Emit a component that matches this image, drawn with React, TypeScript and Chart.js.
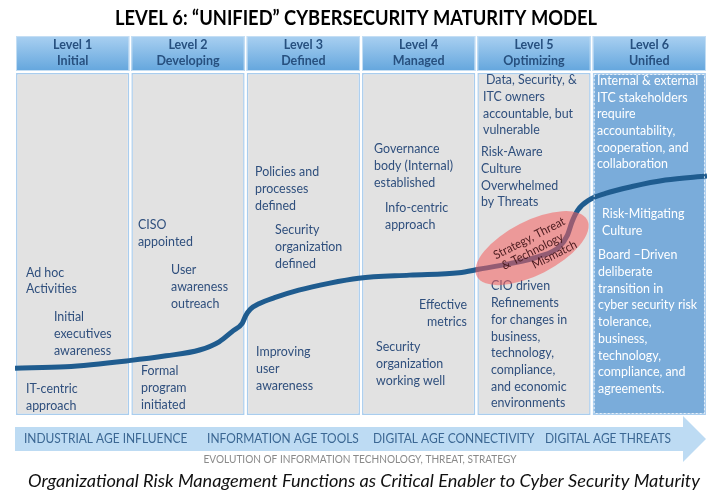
import React, { useEffect, useRef } from 'react';
import { Chart, registerables } from 'chart.js';

Chart.register(...registerables);

// ---------- data ----------
const TITLE = 'LEVEL 6: \u201CUNIFIED\u201D CYBERSECURITY MATURITY MODEL';
const LEVELS: string[][] = [
  ['Level 1', 'Initial'],
  ['Level 2', 'Developing'],
  ['Level 3', 'Defined'],
  ['Level 4', 'Managed'],
  ['Level 5', 'Optimizing'],
  ['Level 6', 'Unified'],
];
const COLUMN_BOTTOM = [0, 0, 0, 0, 0, 0];
const COLUMN_TOP = [100, 100, 100, 100, 100, 100];

// maturity S-curve (x in level units 0..6, y in 0..100)
const CURVE_X = [0, 0.44, 0.99, 1.31, 1.6, 1.77, 1.89, 1.97, 2.0, 2.04, 2.12, 2.25, 2.46, 2.72, 2.98, 3.42, 3.85, 4.02, 4.28, 4.54, 4.72, 4.79, 4.83, 4.88, 4.98, 5.12, 5.35, 5.64, 6.0];
const CURVE_Y = [13.7, 14.1, 15.9, 17.3, 19.0, 21.4, 24.6, 26.8, 29.0, 30.9, 32.6, 34.3, 36.5, 38.5, 40.0, 40.9, 41.6, 42.6, 44.2, 46.3, 49.2, 52.6, 56.5, 59.9, 62.9, 64.8, 66.8, 68.7, 69.9];

// text notes: x (level units, left edge unless right-aligned), y (first line), lines
const NOTE_X = [0.095, 0.338, 0.095, 1.066, 1.353, 1.093, 2.081, 2.254, 2.09, 3.113, 3.208, 3.919, 3.13, 4.084, 4.058, 4.041, 4.127, 5.046, 5.09, 5.055];
const NOTE_Y = [41.7, 28.7, 7.7, 55.6, 42.4, 12.9, 71.1, 54.1, 18.4, 77.8, 60.5, 32.2, 19.9, 98.0, 93.1, 76.9, 37.7, 97.8, 58.8, 46.8];
const NOTE_RIGHT = [false, false, false, false, false, false, false, false, false, false, false, true, false, false, false, false, false, false, false, false];
const NOTE_TEXT: string[][] = [
  ['Ad hoc', 'Activities'],
  ['Initial', 'executives', 'awareness'],
  ['IT-centric', 'approach'],
  ['CISO', 'appointed'],
  ['User', 'awareness', 'outreach'],
  ['Formal', 'program', 'initiated'],
  ['Policies and', 'processes', 'defined'],
  ['Security', 'organization', 'defined'],
  ['Improving', 'user', 'awareness'],
  ['Governance', 'body (Internal)', 'established'],
  ['Info-centric', 'approach'],
  ['Effective', 'metrics'],
  ['Security', 'organization', 'working well'],
  ['Data, Security, &'],
  ['ITC owners', 'accountable, but', 'vulnerable'],
  ['Risk-Aware', 'Culture', 'Overwhelmed', 'by Threats'],
  ['CIO driven', 'Refinements', 'for changes in', 'business,', 'technology,', 'compliance,', 'and economic', 'environments'],
  ['Internal & external', 'ITC stakeholders', 'require', 'accountability,', 'cooperation, and', 'collaboration'],
  ['Risk-Mitigating', 'Culture'],
  ['Board \u2013Driven', 'deliberate', 'transition in', 'cyber security risk', 'tolerance,', 'business,', 'technology,', 'compliance, and', 'agreements.'],
];

const MISMATCH_TEXT = ['Strategy, Threat', '& Technology', 'Mismatch'];
const MISMATCH_AT = [4.483, 48.8];

const AGES = ['INDUSTRIAL AGE INFLUENCE', 'INFORMATION AGE TOOLS', 'DIGITAL AGE CONNECTIVITY', 'DIGITAL AGE THREATS'];
const AGE_X = [0.078, 1.665, 3.104, 4.595];
const EVOLUTION = 'EVOLUTION OF INFORMATION TECHNOLOGY, THREAT, STRATEGY';
const FOOTER = 'Organizational Risk Management Functions as Critical Enabler to Cyber Security Maturity';

// ---------- styles ----------
const FONT = 'Lato, "Open Sans", sans-serif';
const TEXT_BLUE = '#2f4f7d';
const GREY_BODY = '#e2e2e2';
const BLUE_BODY = '#7aacda';
const CURVE = '#1f5c8f';
const BAR_DATASET = 1;

function drawLines(ctx: CanvasRenderingContext2D, lines: string[], x: number, y: number, lh: number, right: boolean, sx: number) {
  lines.forEach((t, i) => {
    ctx.save();
    ctx.translate(x, y + i * lh);
    ctx.scale(sx, 1);
    ctx.textAlign = right ? 'right' : 'left';
    ctx.fillText(t, 0, 0);
    ctx.restore();
  });
}

const decor = {
  id: 'decor',
  beforeDraw(chart: any) {
    const ctx: CanvasRenderingContext2D = chart.ctx;
    const meta = chart.getDatasetMeta(BAR_DATASET);
    const top = chart.scales.x.top;
    const bottom = chart.chartArea.top - 2;
    ctx.save();
    meta.data.forEach((el: any) => {
      const { x, width } = el.getProps(['x', 'width'], true);
      const g = ctx.createLinearGradient(0, top, 0, bottom);
      g.addColorStop(0, '#a9d0f1');
      g.addColorStop(1, '#64a6dd');
      ctx.fillStyle = g;
      ctx.fillRect(x - width / 2, top, width, bottom - top);
      ctx.strokeStyle = '#c4def4';
      ctx.lineWidth = 1;
      ctx.strokeRect(x - width / 2 + 0.5, top + 0.5, width - 1, bottom - top - 1);
    });
    ctx.restore();
  },
  afterDatasetsDraw(chart: any) {
    const ctx: CanvasRenderingContext2D = chart.ctx;
    const xs = chart.scales.x2;
    const ys = chart.scales.y;
    const ca = chart.chartArea;
    ctx.save();
    // dotted inner border of the unified column
    const meta = chart.getDatasetMeta(BAR_DATASET);
    const last = meta.data[meta.data.length - 1];
    const { x: lx, width: lw } = last.getProps(['x', 'width'], true);
    ctx.setLineDash([2, 2]);
    ctx.strokeStyle = 'rgba(255,255,255,0.75)';
    ctx.lineWidth = 1;
    ctx.strokeRect(lx - lw / 2 + 1.5, ca.top + 1.5, lw - 3, ca.bottom - ca.top - 3);
    ctx.setLineDash([]);

    ctx.font = `13.5px ${FONT}`;
    ctx.textBaseline = 'middle';
    NOTE_TEXT.forEach((lines, i) => {
      const px = xs.getPixelForValue(NOTE_X[i]);
      const py = ys.getPixelForValue(NOTE_Y[i]);
      ctx.fillStyle = NOTE_X[i] >= 5 ? '#ffffff' : TEXT_BLUE;
      drawLines(ctx, lines, px, py, 16.7, NOTE_RIGHT[i], 0.92);
    });
    // mismatch ellipse
    const cx = xs.getPixelForValue(MISMATCH_AT[0]);
    const cy = ys.getPixelForValue(MISMATCH_AT[1]);
    const ang = (-27 * Math.PI) / 180;
    ctx.beginPath();
    ctx.ellipse(cx, cy, 62, 27, ang, 0, Math.PI * 2);
    ctx.fillStyle = 'rgba(244, 92, 92, 0.55)';
    ctx.fill();
    ctx.translate(cx, cy);
    ctx.rotate(ang);
    ctx.fillStyle = '#4a1a1e';
    ctx.font = `12px ${FONT}`;
    ctx.textAlign = 'center';
    const offs = [[2, -10], [-1, 3], [17, 16]];
    MISMATCH_TEXT.forEach((t, i) => {
      ctx.save();
      ctx.translate(offs[i][0], offs[i][1]);
      ctx.scale(0.94, 1);
      ctx.fillText(t, 0, 0);
      ctx.restore();
    });
    ctx.restore();
  },
  afterDraw(chart: any) {
    const ctx: CanvasRenderingContext2D = chart.ctx;
    const xs = chart.scales.x2;
    ctx.save();
    // title
    ctx.fillStyle = '#000';
    ctx.font = `bold 20.5px ${FONT}`;
    ctx.textAlign = 'center';
    ctx.textBaseline = 'middle';
    ctx.fillText(TITLE, 356, 18, 482);
    // arrow
    const ca = chart.chartArea;
    ctx.fillStyle = '#bddbf3';
    ctx.beginPath();
    ctx.moveTo(ca.left, 427);
    ctx.lineTo(683, 427);
    ctx.lineTo(683, 416);
    ctx.lineTo(706, 439);
    ctx.lineTo(683, 462);
    ctx.lineTo(683, 451);
    ctx.lineTo(ca.left, 451);
    ctx.closePath();
    ctx.fill();
    ctx.fillStyle = '#3b6793';
    ctx.font = `13px ${FONT}`;
    ctx.textAlign = 'left';
    AGES.forEach((t, i) => {
      ctx.save();
      ctx.translate(xs.getPixelForValue(AGE_X[i]), 439);
      ctx.scale(0.92, 1);
      ctx.fillText(t, 0, 0);
      ctx.restore();
    });
    ctx.fillStyle = '#8a8a8a';
    ctx.font = `11.5px ${FONT}`;
    ctx.textAlign = 'center';
    ctx.fillText(EVOLUTION, 360, 459, 313);
    ctx.fillStyle = '#111';
    ctx.font = `italic 18.2px ${FONT}`;
    ctx.fillText(FOOTER, 364, 481, 672);
    ctx.restore();
  },
};

export default function App() {
  const ref = useRef<HTMLCanvasElement>(null);
  useEffect(() => {
    document.body.style.margin = '0';
    Chart.defaults.font.family = FONT;
    const chart = new Chart(ref.current as HTMLCanvasElement, {
      type: 'bar',
      data: {
        labels: LEVELS as any,
        datasets: [
          {
            type: 'line',
            data: CURVE_X.map((x, i) => ({ x, y: CURVE_Y[i] })) as any,
            xAxisID: 'x2',
            yAxisID: 'y',
            borderColor: CURVE,
            borderWidth: 5,
            pointRadius: 0,
            cubicInterpolationMode: 'monotone',
            order: 0,
          } as any,
          {
            type: 'bar',
            data: COLUMN_BOTTOM.map((b, i) => [b, COLUMN_TOP[i]]) as any,
            xAxisID: 'x',
            yAxisID: 'y',
            backgroundColor: COLUMN_TOP.map((_, i) => (i === 5 ? BLUE_BODY : GREY_BODY)),
            borderColor: '#a9cdee',
            borderWidth: 1.5,
            borderSkipped: false,
            barPercentage: 1,
            categoryPercentage: 0.982,
            grouped: false,
            order: 1,
          } as any,
        ],
      },
      options: {
        responsive: false,
        animation: false,
        layout: { padding: { top: 36, left: 15, right: 13, bottom: 82 } },
        plugins: { legend: { display: false }, tooltip: { enabled: false }, title: { display: false } },
        scales: {
          x: {
            type: 'category',
            position: 'top',
            offset: true,
            grid: { display: false, drawTicks: false },
            border: { display: false },
            ticks: {
              color: '#27507f',
              font: { size: 12.5, weight: 'bold', lineHeight: 1.28 },
              padding: 4,
              maxRotation: 0,
              autoSkip: false,
            },
            afterFit: (s: any) => {
              s.height = 37;
            },
          },
          x2: { type: 'linear', display: false, offset: false, min: 0, max: 6, grid: { offset: false } },
          y: { type: 'linear', display: false, min: 0, max: 100 },
        },
      } as any,
      plugins: [decor],
    });
    return () => chart.destroy();
  }, []);
  return (
    <div style={{ position: 'absolute', left: 0, top: 0, width: 720, height: 497, background: '#fff' }}>
      <canvas ref={ref} width={720} height={497} />
    </div>
  );
}
